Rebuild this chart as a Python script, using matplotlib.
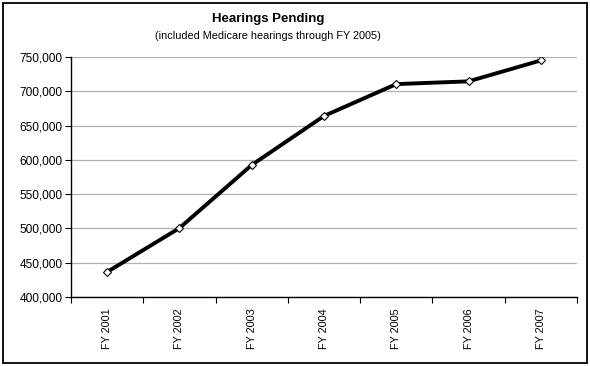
import matplotlib.pyplot as plt
from matplotlib.patches import Rectangle
from matplotlib.ticker import FuncFormatter
import numpy as np

years = ['FY 2001', 'FY 2002', 'FY 2003', 'FY 2004', 'FY 2005', 'FY 2006', 'FY 2007']
pending = [436500, 500500, 592500, 664000, 710500, 714500, 745000]

plt.rcParams['font.family'] = ['Liberation Sans', 'DejaVu Sans']

fig = plt.figure(figsize=(5.9, 3.66), dpi=100)
W, H = 590, 366
ax = fig.add_axes([71 / W, 1 - 297 / H, (577 - 71) / W, (297 - 57) / H])

# chart border
fig.patches.append(Rectangle((2.5 / W, 3.5 / H), 584.5 / W, 360 / H, transform=fig.transFigure,
                             fill=False, edgecolor='black', linewidth=1.3))

x = np.arange(len(years))
ax.plot(x, pending, color='black', linewidth=2.8, marker='D', markersize=4.5,
        markerfacecolor='white', markeredgecolor='black', markeredgewidth=0.8, zorder=3)

ax.set_xlim(-0.5, len(years) - 0.5)
ax.set_ylim(400000, 750000)
ax.set_yticks(np.arange(400000, 750001, 50000))
ax.yaxis.set_major_formatter(FuncFormatter(lambda v, p: f'{int(v):,}'))
ax.set_xticks(x)
ax.set_xticklabels(years, rotation=90, fontsize=7.8)
ax.set_xticks(np.arange(-0.5, len(years), 1), minor=True)
ax.tick_params(axis='x', which='major', length=0, pad=8)
ax.tick_params(axis='x', which='minor', length=4, direction='out', width=0.8)
ax.tick_params(axis='y', length=4, width=0.8, labelsize=8.6, pad=2)
ax.grid(axis='y', color='#b0b0b0', linewidth=0.9)
ax.set_axisbelow(True)

for s in ['top', 'right']:
    ax.spines[s].set_visible(False)
for s in ['left', 'bottom']:
    ax.spines[s].set_linewidth(1.0)

fig.text(268 / W, 1 - 19 / H, 'Hearings Pending', ha='center', va='center',
         fontsize=9.5, fontweight='bold')
fig.text(268 / W, 1 - 36 / H, '(included Medicare hearings through FY 2005)', ha='center',
         va='center', fontsize=7.8)

fig.savefig('out.png', dpi=100)
